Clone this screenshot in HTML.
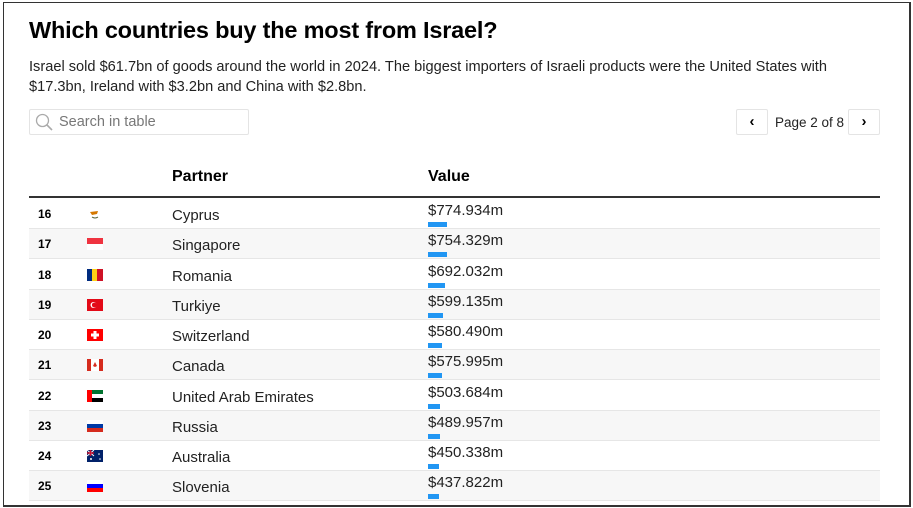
<!DOCTYPE html>
<html><head><meta charset="utf-8"><style>
body{margin:0;width:913px;height:508px;background:#fff;font-family:"Liberation Sans",sans-serif;color:#000;position:relative;overflow:hidden}
.frame{position:absolute;left:3px;top:2px;width:905px;height:502px;border:1px solid #333;border-right-width:2px;border-bottom-width:2px}
.abs{position:absolute}
h1{position:absolute;left:29px;top:17px;margin:0;font-size:23.5px;font-weight:bold;letter-spacing:-0.2px}
.sub{left:29px;top:58px;font-size:14.6px;line-height:19.5px;width:850px;color:#222}
.search{left:29px;top:109px;width:220px;height:26px;border:1px solid #e4e4e4;border-radius:2px;font-size:14.5px;color:#777;box-sizing:border-box}
.btn{top:109px;width:32px;height:26px;border:1px solid #e4e4e4;border-radius:2px;box-sizing:border-box;text-align:center;font-size:15px;line-height:24px;font-weight:bold}
.hdr{top:168px;font-size:16px;font-weight:bold}
.hline{left:29px;top:196px;width:851px;height:2px;background:#333}
.row{position:absolute;left:29px;width:851px;height:30px;border-bottom:1px solid #e6e6e6;box-sizing:border-box}
.rank{position:absolute;left:9px;top:8px;font-size:12px;font-weight:bold}
.flag{position:absolute;left:58px;top:9px;width:16px;height:12px}
.name{position:absolute;left:143px;top:8px;font-size:15px;color:#222}
.val{position:absolute;left:399px;top:3px;font-size:15px;color:#222}
.bar{position:absolute;left:399px;top:23px;height:5px;background:#2196f3}
</style></head><body>
<div class="frame"></div>
<h1>Which countries buy the most from Israel?</h1>
<div class="abs sub">Israel sold $61.7bn of goods around the world in 2024. The biggest importers of Israeli products were the United States with $17.3bn, Ireland with $3.2bn and China with $2.8bn.</div>
<div class="abs search">
<svg class="abs" style="left:5px;top:3px" width="18" height="18"><circle cx="7.5" cy="7.5" r="6" fill="none" stroke="#aaa" stroke-width="1.3"/><line x1="12" y1="12" x2="17" y2="17" stroke="#aaa" stroke-width="1.6"/></svg>
<span class="abs" style="left:29px;top:4px">Search in table</span></div>
<div class="abs btn" style="left:736px">‹</div>
<div class="abs" style="left:775px;top:115px;font-size:13.5px;color:#222">Page 2 of 8</div>
<div class="abs btn" style="left:848px">›</div>
<div class="abs hdr" style="left:172px">Partner</div>
<div class="abs hdr" style="left:428px">Value</div>
<div class="abs hline"></div>
<div id="rows"></div>
<script>
const ranks=[16,17,18,19,20,21,22,23,24,25];
const partners=["Cyprus","Singapore","Romania","Turkiye","Switzerland","Canada","United Arab Emirates","Russia","Australia","Slovenia"];
const values=[774.934,754.329,692.032,599.135,580.490,575.995,503.684,489.957,450.338,437.822];
const flags=[
'<rect width="16" height="12" fill="#fff"/><path d="M3 4 L11 3 L10 6 L5 7Z" fill="#d57800"/><path d="M5 9 Q8 11 11 9" stroke="#4e5b31" fill="none"/>',
'<rect width="16" height="6" fill="#ef3340"/><rect y="6" width="16" height="6" fill="#fff"/>',
'<rect width="6" height="12" fill="#002b7f"/><rect x="5" width="6" height="12" fill="#fcd116"/><rect x="10" width="6" height="12" fill="#ce1126"/>',
'<rect width="16" height="12" fill="#e30a17"/><circle cx="6.5" cy="6" r="3" fill="#fff"/><circle cx="7.3" cy="6" r="2.4" fill="#e30a17"/>',
'<rect width="16" height="12" fill="#ff0000"/><rect x="6.5" y="2" width="3" height="8" fill="#fff"/><rect x="4" y="4.5" width="8" height="3" fill="#fff"/>',
'<rect width="16" height="12" fill="#fff"/><rect width="4" height="12" fill="#d52b1e"/><rect x="12" width="4" height="12" fill="#d52b1e"/><path d="M8 3 L10 7 L8 8 L6 7Z" fill="#d52b1e"/>',
'<rect width="16" height="4" fill="#00732f"/><rect y="4" width="16" height="4" fill="#fff"/><rect y="8" width="16" height="4" fill="#000"/><rect width="5" height="12" fill="#ff0000"/>',
'<rect width="16" height="4" fill="#fff"/><rect y="4" width="16" height="4" fill="#0039a6"/><rect y="8" width="16" height="4" fill="#d52b1e"/>',
'<rect width="16" height="12" fill="#012169"/><path d="M0 0L7 6M7 0L0 6" stroke="#fff"/><path d="M3.5 0V6M0 3H7" stroke="#c8102e" stroke-width="1.5"/><circle cx="12" cy="4" r="0.8" fill="#fff"/><circle cx="13" cy="9" r="0.8" fill="#fff"/><circle cx="4" cy="9" r="1" fill="#fff"/>',
'<rect width="16" height="4" fill="#fff"/><rect y="4" width="16" height="4" fill="#0000ff"/><rect y="8" width="16" height="4" fill="#ff0000"/>'];
const xScale=v=>v*0.0246;
const rowY=i=>199+i*30.25;
const root=document.getElementById('rows');
ranks.forEach((r,i)=>{
  const row=document.createElement('div');
  row.className='row';
  
  
  row.style.top=rowY(i)+'px';
  if(i%2===1) row.style.background='#f7f7f7';
  row.innerHTML='<span class="rank">'+r+'</span><svg class="flag" viewBox="0 0 16 12">'+flags[i]+'</svg><span class="name">'+partners[i]+'</span><span class="val">$'+values[i].toFixed(3)+'m</span><div class="bar" style="width:'+xScale(values[i])+'px"></div>';
  root.appendChild(row);
  const b=row.querySelector('.bar');
  
  
});
</script>
</body></html>
